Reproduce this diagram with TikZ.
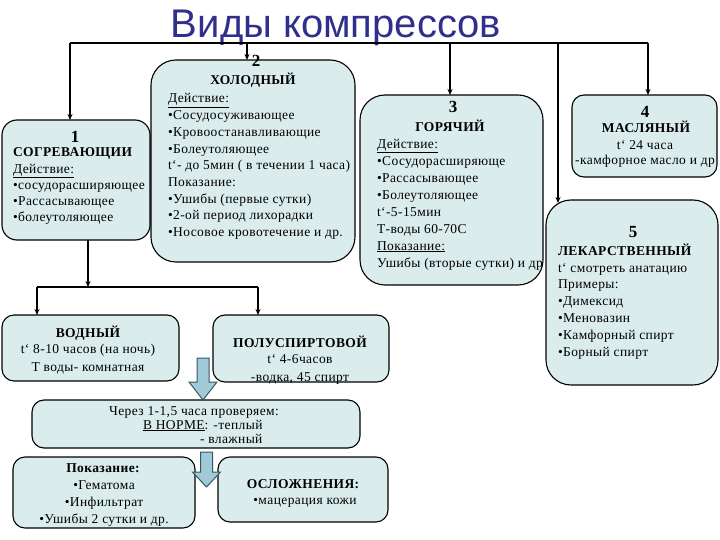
\documentclass[tikz,border=0pt]{standalone}
\usepackage{fontspec}
\setmainfont{Liberation Serif}[LetterSpace=3]
\newfontfamily\titlefont{Liberation Sans}
\usetikzlibrary{arrows.meta}
\definecolor{boxfill}{RGB}{219,236,236}
\definecolor{titleblue}{RGB}{48,48,140}
\definecolor{arrfill}{RGB}{160,202,216}
\definecolor{arrdraw}{RGB}{55,85,100}
\tikzset{
  box/.style={draw=black, line width=1.1pt, fill=boxfill, rounded corners=#1, anchor=north west, inner sep=0pt, outer sep=0pt},
  box/.default=12pt,
  tx/.style={inner sep=0pt, outer sep=0pt, font=\fontsize{13.5}{16.7}\selectfont, align=left, anchor=base west},
  txc/.style={tx, align=center, anchor=base},
  num/.style={inner sep=0pt, outer sep=0pt, font=\bfseries\fontsize{17}{17}\selectfont, anchor=base},
  hd/.style={inner sep=0pt, outer sep=0pt, font=\bfseries\fontsize{13.5}{13.5}\selectfont, anchor=base},
  conn/.style={line width=1.2pt, draw=black},
  arr/.style={conn, -{Stealth[length=6pt,width=5pt]}},
  blockarr/.style={fill=arrfill, draw=arrdraw, line width=1pt, line join=miter},
}
\begin{document}
\begin{tikzpicture}[x=1pt,y=-1pt]
\useasboundingbox (0,0) rectangle (720,540);
% title
\node[font=\titlefont\fontsize{40}{44}\selectfont, text=titleblue, anchor=base, inner sep=0pt] (title) at (336,38) {Виды компрессов};

% boxes
\node[box=15pt, minimum width=148pt, minimum height=120pt] (b1) at (2,120) {};
\node[box=25pt, minimum width=204pt, minimum height=202pt] (b2) at (151,60) {};
\node[box=25pt, minimum width=183pt, minimum height=190pt] (b3) at (360,95) {};
\node[box=12pt, minimum width=145pt, minimum height=82pt] (b4) at (572,95) {};
\node[box, minimum width=177pt, minimum height=66pt] (b6) at (2,315) {};
\node[box, minimum width=176pt, minimum height=67pt] (b7) at (213,315) {};
\node[box, minimum width=328pt, minimum height=48pt] (b8) at (32,400) {};
\node[box, minimum width=182pt, minimum height=71pt] (b9) at (13,457) {};
\node[box, minimum width=170pt, minimum height=65pt] (b10) at (218,457) {};

% connectors (top)
\coordinate (j1) at (70,43);
\coordinate (j2) at (247,43);
\coordinate (j3) at (450,43);
\coordinate (j4) at (558,43);
\coordinate (j5) at (648,43);
\coordinate (j5e) at (558,203);
\draw[conn] (j1) -- (j5);
\draw[arr] (j1) -- (j1 |- b1.north);
\draw[arr] (j2) -- (j2 |- b2.north);
\draw[arr] (j3) -- (j3 |- b3.north);
\draw[arr] (j5) -- (j5 |- b4.north);
\draw[arr, line width=2pt] (j4) -- (j5e);

% connectors (lower)
\coordinate (j6) at (88,287);
\coordinate (j7) at (37,287);
\coordinate (j8) at (258,287);
\draw[arr] (b1.south -| j6) -- (j6);
\draw[conn] (j7) -- (j8);
\draw[arr] (j7) -- (j7 |- b6.north);
\draw[arr] (j8) -- (j8 |- b7.north);

% texts box 1 (multi-line nodes are anchored at the baseline of their last line)
\node[num] (n1) at (75,143) {1};
\node[tx, font=\fontsize{13.5}{16.3}\selectfont] (t1) at (13,222) {\textbf{СОГРЕВАЮЩИИ}\\\underline{Действие:}\\•сосудорасширяющее\\•Рассасывающее\\•болеутоляющее};
% box 2
\node[num] (n2) at (256,67) {2};
\node[hd] (h2) at (253,85) {ХОЛОДНЫЙ};
\node[tx] (t2) at (168,236.6) {\underline{Действие:}\\•Сосудосуживающее\\•Кровоостанавливающие\\•Болеутоляющее\\t`- до 5мин ( в течении 1 часа)\\Показание:\\•Ушибы (первые сутки)\\•2-ой период лихорадки\\•Носовое кровотечение и др.};
% box 3
\node[num] (n3) at (453,113) {3};
\node[hd] (h3) at (450,132) {ГОРЯЧИЙ};
\node[tx, font=\fontsize{13.5}{17}\selectfont] (t3) at (377,267) {\underline{Действие:}\\•Сосудорасширяюще\\•Рассасывающее\\•Болеутоляющее\\t`-5-15мин\\Т-воды 60-70С\\\underline{Показание:}\\Ушибы (вторые сутки) и др};
% box 4
\node[num] (n4) at (645,118) {4};
\node[hd] (h4) at (646,133) {МАСЛЯНЫЙ};
\node[txc, font=\fontsize{13.5}{15}\selectfont] (t4) at (645,165) {t` 24 часа\\-камфорное масло и др};

% box 5 (drawn over box 3)
\node[box=25pt, minimum width=172pt, minimum height=185pt] (b5) at (546,200) {};
\node[num] (n5) at (633,237) {5};
\node[tx, font=\fontsize{13.5}{16.8}\selectfont] (t5) at (558,356) {\textbf{ЛЕКАРСТВЕННЫЙ}\\t` смотреть анатацию\\Примеры:\\•Димексид\\•Меновазин\\•Камфорный спирт\\•Борный спирт};

% box 6, 7
\node[hd] (h6) at (88,337) {ВОДНЫЙ};
\node[txc, font=\fontsize{13.5}{18}\selectfont] (t6) at (88,371) {t` 8-10 часов (на ночь)\\Т воды- комнатная};
\node[hd] (h7) at (300,347) {ПОЛУСПИРТОВОЙ};
\node[txc, font=\fontsize{13.5}{18}\selectfont] (t7) at (300,381) {t` 4-6часов\\-водка, 45 спирт};

% box 8
\node[txc] (t8a) at (194,415) {Через 1-1,5 часа проверяем:};
\node[tx] (t8b) at (143,429) {\underline{В НОРМЕ}: -теплый};
\node[tx] (t8c) at (200,443) {- влажный};

% box 9, 10
\node[hd] (h9) at (103,472) {Показание:};
\node[txc, font=\fontsize{13.5}{17}\selectfont] (t9) at (104,523) {•Гематома\\•Инфильтрат\\•Ушибы 2 сутки и др.};
\node[hd] (h10) at (303,488) {ОСЛОЖНЕНИЯ:};
\node[txc] (t10) at (305,504) {•мацерация кожи};

% block arrows
\draw[blockarr] (197,358) -- (209,358) -- (209,382) -- (217,382) -- (203,400) -- (189,382) -- (197,382) -- cycle;
\draw[blockarr] (200.5,452) -- (212.5,452) -- (212.5,472) -- (220.5,472) -- (206.5,487) -- (192.5,472) -- (200.5,472) -- cycle;
\end{tikzpicture}
\end{document}
